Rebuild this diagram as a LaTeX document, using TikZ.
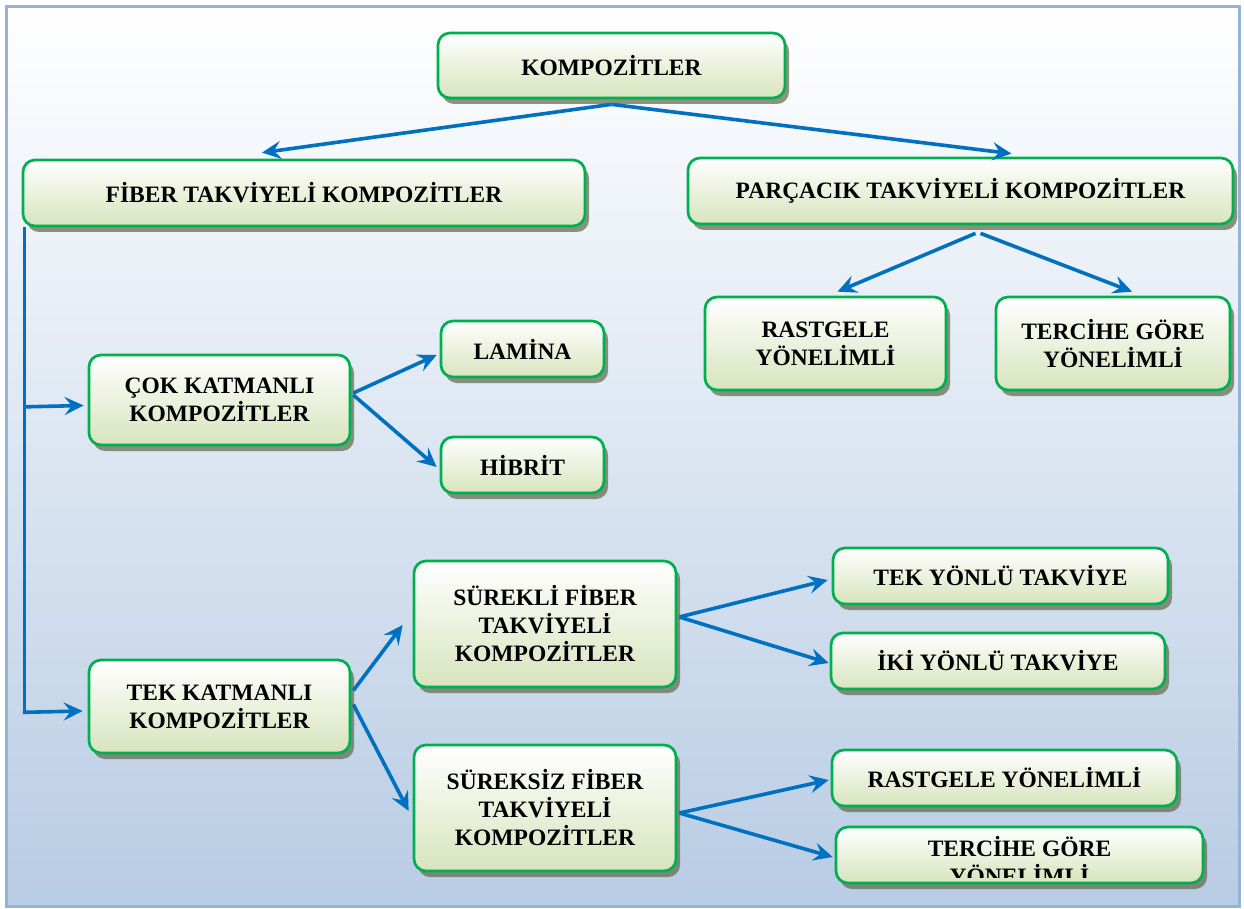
\documentclass[tikz,border=0pt]{standalone}
\usepackage{fontspec}
\setmainfont{Liberation Serif}
\usetikzlibrary{arrows.meta,shadows,calc}
\definecolor{boxgreen}{RGB}{0,176,80}
\definecolor{boxbot}{RGB}{215,228,189}
\definecolor{shadowc}{RGB}{95,105,75}
\definecolor{arrowblue}{RGB}{0,112,192}
\definecolor{bgbot}{RGB}{184,204,228}
\definecolor{framec}{RGB}{149,179,215}
\tikzset{
  box/.style={draw=boxgreen, line width=2.7pt, rounded corners=12pt,
    top color=white, bottom color=boxbot, align=center,
    font=\bfseries\fontsize{23.5}{28}\selectfont, inner sep=0pt,
    drop shadow={shadow xshift=4pt, shadow yshift=-6pt, fill=shadowc, opacity=0.7}},
  conn/.style={draw=arrowblue, line width=3.6pt, -{Stealth[length=19pt,width=18pt,inset=7pt]}},
  plain/.style={draw=arrowblue, line width=3.6pt},
  lbl/.style={align=center, font=\bfseries\fontsize{23.5}{28}\selectfont, inner sep=0pt},
}
\begin{document}
\begin{tikzpicture}[x=1pt,y=-1pt]
\useasboundingbox (0,0) rectangle (1244,909);
\fill[white] (0,0) rectangle (1244,909);
\shade[top color=white, bottom color=bgbot] (6.5,6.5) rectangle (1239,906);
\draw[framec, line width=3pt] (6.5,6.5) rectangle (1239,906);

% nodes
\node[box, minimum width=347pt, minimum height=65pt] (komp) at (611.5,65.5) {KOMPOZ\.{I}TLER};
\node[box, minimum width=562pt, minimum height=66pt] (fiber) at (304,193) {F\.{I}BER TAKV\.{I}YEL\.{I} KOMPOZ\.{I}TLER};
\node[box, minimum width=545pt, minimum height=66pt] (parc) at (960.5,191) {PAR\c{C}ACIK TAKV\.{I}YEL\.{I} KOMPOZ\.{I}TLER};
\node[box, minimum width=241pt, minimum height=93pt] (rast1) at (825.5,343.5) {RASTGELE\\Y\"ONEL\.{I}ML\.{I}};
\node[box, minimum width=234pt, minimum height=93pt] (terc1) at (1113,343.5) {TERC\.{I}HE G\"ORE\\Y\"ONEL\.{I}ML\.{I}};
\node[box, minimum width=261pt, minimum height=90pt] (cok) at (219.5,400) {\c{C}OK KATMANLI\\KOMPOZ\.{I}TLER};
\node[box, minimum width=163pt, minimum height=56pt] (lamina) at (522.5,349) {LAM\.{I}NA};
\node[box, minimum width=163pt, minimum height=56pt] (hibrit) at (522.5,465) {H\.{I}BR\.{I}T};
\node[box, minimum width=261pt, minimum height=93pt] (tek) at (219.5,706.5) {TEK KATMANLI\\KOMPOZ\.{I}TLER};
\node[box, minimum width=262pt, minimum height=126pt] (surekli) at (545,624) {S\"UREKL\.{I} F\.{I}BER\\TAKV\.{I}YEL\.{I}\\KOMPOZ\.{I}TLER};
\node[box, minimum width=262pt, minimum height=126pt] (sureksiz) at (545,808) {S\"UREKS\.{I}Z F\.{I}BER\\TAKV\.{I}YEL\.{I}\\KOMPOZ\.{I}TLER};
\node[box, minimum width=335pt, minimum height=56pt] (tekyon) at (1000.5,576) {TEK Y\"ONL\"U TAKV\.{I}YE};
\node[box, minimum width=334pt, minimum height=56pt] (iki) at (998,661) {\.{I}K\.{I} Y\"ONL\"U TAKV\.{I}YE};
\node[box, minimum width=345pt, minimum height=56pt] (rast2) at (1004.5,778) {RASTGELE Y\"ONEL\.{I}ML\.{I}};
\node[box, minimum width=367pt, minimum height=56pt] (terc2) at (1019.5,855) {};
\begin{scope}
  \clip (836,829) rectangle (1203,877);
  \node[lbl] (terc2text) at (1019.5,861) {TERC\.{I}HE G\"ORE\\Y\"ONEL\.{I}ML\.{I}};
\end{scope}

% connectors
\draw[conn] ($(komp.south)+(0,5)$) -- ($(fiber.north)+(-42,-6)$);
\draw[conn] ($(komp.south)+(0,5)$) -- ($(parc.north)+(51,-3)$);
\draw[conn] ($(parc.south)+(15,8)$) -- ($(rast1.north)+(12,-4)$);
\draw[conn] ($(parc.south)+(20,8)$) -- ($(terc1.north)+(19,-4)$);

\draw[plain] ($(fiber.south west)+(3,0)$) -- ($(fiber.south west)+(3,486.5)$);
\draw[conn] ($(fiber.south west)+(1.2,485)$) -- ($(tek.west)+(-5,4.5)$);
\draw[conn] ($(fiber.south west)+(3,179.5)$) -- ($(cok.west)+(-4,5.5)$);

\draw[conn] ($(cok.east)+(2,-7)$) -- ($(lamina.west)+(-3,6)$);
\draw[conn] ($(cok.east)+(2,-5)$) -- ($(hibrit.west)+(-3,2)$);

\draw[conn] ($(tek.east)+(2,-16)$) -- ($(surekli.west)+(-10,1)$);
\draw[conn] ($(tek.east)+(2,-2)$) -- ($(sureksiz.west)+(-4,3)$);

\draw[conn] ($(surekli.east)+(2,-7)$) -- ($(tekyon.west)+(-4,4)$);
\draw[conn] ($(surekli.east)+(2,-7)$) -- ($(iki.west)+(-1,2)$);

\draw[conn] ($(sureksiz.east)+(2,5)$) -- ($(rast2.west)+(-2,2)$);
\draw[conn] ($(sureksiz.east)+(2,5)$) -- ($(terc2.west)+(-2,2)$);
\end{tikzpicture}
\end{document}
